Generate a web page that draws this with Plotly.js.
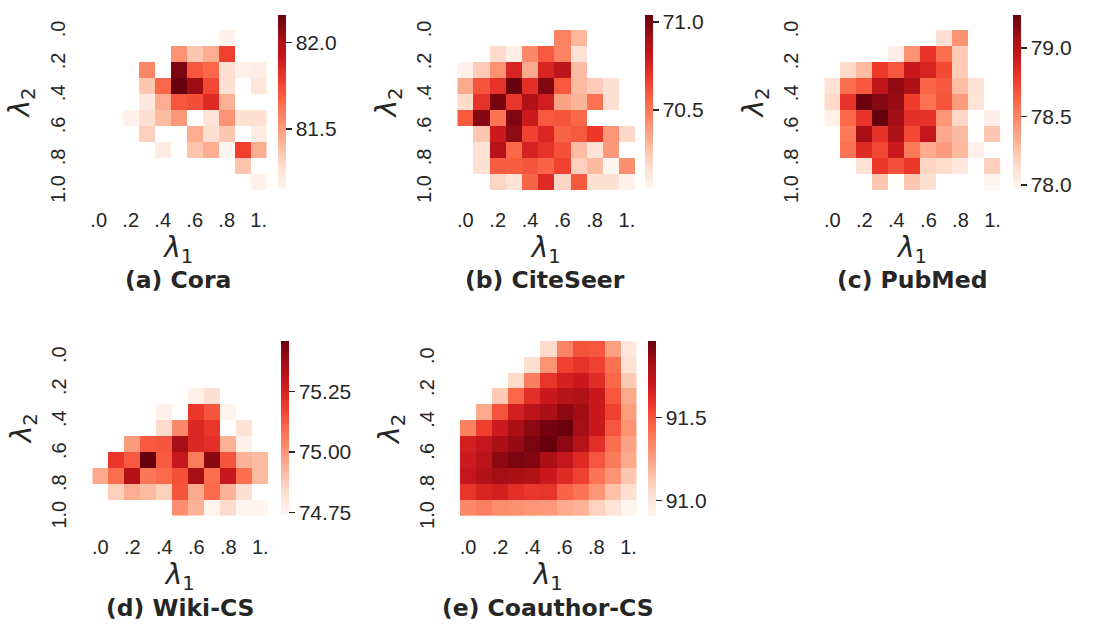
<!DOCTYPE html>
<html>
<head>
<meta charset="utf-8">
<script src="https://cdn.plot.ly/plotly-3.0.1.min.js"></script>
<style>html,body{margin:0;padding:0;background:#fff;}#chart{width:1096px;height:625px;}</style>
</head>
<body>
<div id="chart"></div>
<script>
// ---------- DATA ----------
const lambdaVals = [0.0, 0.1, 0.2, 0.3, 0.4, 0.5, 0.6, 0.7, 0.8, 0.9, 1.0];
const xTickVals = [0.0, 0.2, 0.4, 0.6, 0.8, 1.0];
const xTickText = ['.0', '.2', '.4', '.6', '.8', '1.'];
const yTickText = ['.0', '.2', '.4', '.6', '.8', '1.0'];
const n = null;

// rows: lambda2 = 0.0 .. 1.0 ; columns: lambda1 = 0.0 .. 1.0
const coraAcc = [
  [n, n, n, n, n, n, n, n, n, n, n],
  [n, n, n, n, n, n, n, n, 81.17, n, n],
  [n, n, n, n, n, 81.53, 81.36, 81.45, 81.77, n, n],
  [n, n, n, 81.57, n, 82.12, 81.71, 81.66, 81.28, 81.18, 81.19],
  [n, n, n, 81.36, 81.66, 82.16, 82.05, 81.75, 81.27, n, 81.24],
  [n, n, n, 81.23, 81.45, 81.71, 81.73, 81.84, 81.44, n, n],
  [n, n, 81.17, 81.28, 81.40, 81.51, n, 81.26, 81.53, 81.27, 81.27],
  [n, n, n, 81.33, n, n, 81.45, 81.28, 81.36, n, 81.21],
  [n, n, n, n, 81.21, n, 81.37, 81.45, 81.15, 81.77, 81.45],
  [n, n, n, n, n, n, n, n, n, 81.37, n],
  [n, n, n, n, n, n, n, n, n, n, 81.17]
];
const citeseerAcc = [
  [n, n, n, n, n, n, n, n, n, n, n],
  [n, n, n, n, n, n, 70.47, 70.31, n, n, n],
  [n, n, 70.19, 70.09, 70.45, 70.59, 70.47, 70.16, n, n, n],
  [70.08, 70.24, 70.42, 70.75, 70.35, 70.75, 70.84, 70.29, n, n, n],
  [70.35, 70.60, 70.70, 71.04, 70.71, 70.99, 70.59, 70.30, 70.24, 70.17, n],
  [70.19, 70.70, 71.01, 70.69, 70.88, 70.77, 70.37, 70.32, 70.52, 70.17, n],
  [70.59, 70.98, 70.51, 70.99, 70.79, 70.59, 70.60, 70.55, n, n, n],
  [n, 70.26, 70.79, 70.96, 70.65, 70.74, 70.56, 70.59, 70.68, 70.41, 70.20],
  [n, 70.16, 70.86, 70.55, 70.76, 70.70, 70.61, 70.29, 70.16, 70.40, n],
  [n, 70.17, 70.58, 70.58, 70.60, 70.56, 70.65, 70.23, 70.30, 70.05, 70.43],
  [n, n, 70.21, 70.16, 70.56, 70.73, 70.21, 70.59, 70.17, 70.17, 70.07]
];
const pubmedAcc = [
  [n, n, n, n, n, n, n, n, n, n, n],
  [n, n, n, n, n, n, n, 78.12, 78.44, n, n],
  [n, n, n, n, 78.02, 78.44, 78.80, 78.59, 78.22, n, n],
  [n, 78.15, 78.29, 78.77, 78.67, 78.94, 78.87, 78.71, 78.22, n, n],
  [78.11, 78.59, 78.67, 78.97, 79.13, 79.04, 78.62, 78.67, 78.27, 78.11, n],
  [78.15, 78.80, 79.23, 79.16, 79.11, 78.76, 78.57, 78.68, 78.41, 78.10, n],
  [78.01, 78.61, 78.80, 79.24, 79.09, 78.82, 78.81, 78.43, 78.16, n, 78.02],
  [n, 78.55, 79.07, 78.81, 79.05, 78.72, 78.95, 78.36, 78.29, n, 78.24],
  [n, 78.57, 78.83, 78.72, 78.92, 78.55, 78.35, 78.41, 78.29, 78.00, n],
  [n, n, 78.11, 78.78, 78.69, 78.78, 78.17, 78.14, 78.07, n, 78.20],
  [n, n, n, 78.24, n, 78.24, 78.13, n, n, n, 77.97]
];
const wikiAcc = [
  [n, n, n, n, n, n, n, n, n, n, n],
  [n, n, n, n, n, n, n, n, n, n, n],
  [n, n, n, n, n, n, n, n, n, n, n],
  [n, n, n, n, n, n, 74.76, 74.83, n, n, n],
  [n, n, n, n, 74.76, n, 75.20, 75.14, 74.75, n, n],
  [n, n, n, n, 74.84, 75.03, 75.24, 75.20, n, 74.82, n],
  [n, n, 74.99, 75.13, 75.14, 75.37, 75.24, 75.22, 74.94, 74.76, n],
  [n, 75.20, 75.13, 75.46, 75.13, 75.29, 75.06, 75.41, 75.14, 74.94, 74.92],
  [74.96, 75.09, 75.34, 75.07, 75.10, 75.15, 75.36, 75.09, 75.29, 75.09, 74.92],
  [n, 74.87, 74.95, 74.92, 74.87, 75.14, 74.96, 75.10, 74.94, 74.83, n],
  [n, n, n, n, n, 75.02, 74.94, 74.75, 74.84, 74.74, 74.74]
];
const coauthorAcc = [
  [n, n, n, n, n, 91.06, 91.35, 91.50, 91.49, 91.26, 90.99],
  [n, n, n, n, 91.04, 91.30, 91.55, 91.60, 91.55, 91.41, 91.03],
  [n, n, n, 91.06, 91.37, 91.59, 91.67, 91.70, 91.62, 91.44, 91.12],
  [n, n, 91.12, 91.44, 91.61, 91.70, 91.77, 91.79, 91.70, 91.49, 91.23],
  [n, 91.23, 91.50, 91.67, 91.75, 91.81, 91.88, 91.84, 91.70, 91.55, 91.27],
  [91.36, 91.56, 91.69, 91.81, 91.88, 91.93, 91.95, 91.83, 91.70, 91.49, 91.30],
  [91.67, 91.72, 91.81, 91.86, 91.92, 91.96, 91.88, 91.77, 91.61, 91.42, 91.25],
  [91.69, 91.76, 91.88, 91.92, 91.90, 91.81, 91.72, 91.63, 91.49, 91.38, 91.23],
  [91.72, 91.79, 91.83, 91.81, 91.79, 91.70, 91.63, 91.55, 91.40, 91.30, 91.13],
  [91.59, 91.65, 91.67, 91.61, 91.58, 91.59, 91.45, 91.40, 91.29, 91.15, 91.04],
  [91.33, 91.37, 91.32, 91.31, 91.29, 91.28, 91.23, 91.20, 91.09, 91.02, 90.91]
];
const coraTicks = [81.5, 82.0];
const citeseerTicks = [70.5, 71.0];
const pubmedTicks = [78.0, 78.5, 79.0];
const wikiTicks = [74.75, 75.00, 75.25];
const coauthorTicks = [91.0, 91.5];
const captions = ['(a) Cora', '(b) CiteSeer', '(c) PubMed', '(d) Wiki-CS', '(e) Coauthor-CS'];

// ---------- STYLE / LAYOUT ----------
const W = 1096, H = 625;
const reds = [
  [0.000, '#fff5f0'], [0.125, '#fee0d2'], [0.250, '#fcbba1'], [0.375, '#fc9272'],
  [0.500, '#fb6a4a'], [0.625, '#ef3b2c'], [0.750, '#cb181d'], [0.875, '#a50f15'], [1.000, '#67000d']
];
const TXT = '#262626';
const SANS = 'Liberation Sans, Arial, sans-serif';
const CAPF = 'DejaVu Sans, sans-serif';
const MATH = 'DejaVu Sans, sans-serif';

const panels = [
  {z: coraAcc, ticks: coraTicks, fmt: '.1f', hx: [90.7, 266.7], hy: [14, 190], cbx: 277.7, cby: [15, 189.3], cap: [177.5, 280]},
  {z: citeseerAcc, ticks: citeseerTicks, fmt: '.1f', hx: [457.3, 635], hy: [14, 190], cbx: 645, cby: [15, 189], cap: [545, 280]},
  {z: pubmedAcc, ticks: pubmedTicks, fmt: '.1f', hx: [824.3, 1000.5], hy: [14, 190], cbx: 1012.7, cby: [15, 189], cap: [912.5, 280]},
  {z: wikiAcc, ticks: wikiTicks, fmt: '.2f', hx: [92.3, 268.3], hy: [339.7, 515.7], cbx: 281, cby: [340.7, 515], cap: [180.5, 607.5]},
  {z: coauthorAcc, ticks: coauthorTicks, fmt: '.1f', hx: [460, 636.5], hy: [340.7, 516], cbx: 648.3, cby: [340.7, 515.7], cap: [547.5, 607.5]}
];

const data = [];
const layout = {
  width: W, height: H,
  margin: {l: 0, r: 0, t: 0, b: 0},
  paper_bgcolor: '#ffffff', plot_bgcolor: '#ffffff',
  font: {family: SANS, color: TXT},
  showlegend: false,
  annotations: []
};

panels.forEach((p, i) => {
  const k = i === 0 ? '' : String(i + 1);
  const cbMid = (p.cby[0] + p.cby[1]) / 2;
  data.push({
    type: 'heatmap',
    x: lambdaVals, y: lambdaVals, z: p.z,
    xaxis: 'x' + k, yaxis: 'y' + k,
    colorscale: reds,
    hoverongaps: false,
    colorbar: {
      x: p.cbx / W, xanchor: 'left', xpad: 0,
      y: 1 - cbMid / H, yanchor: 'middle', ypad: 0,
      len: p.cby[1] - p.cby[0], lenmode: 'pixels',
      thickness: 8.3, thicknessmode: 'pixels',
      outlinewidth: 0,
      tickvals: p.ticks, tickformat: p.fmt,
      ticks: 'outside', ticklen: 6, tickwidth: 1.3, tickcolor: TXT,
      tickfont: {family: SANS, size: 21, color: TXT}
    }
  });
  const bottomRow = i >= 3;
  layout['xaxis' + k] = {
    domain: [p.hx[0] / W, p.hx[1] / W],
    anchor: 'y' + k,
    range: [-0.05, 1.05],
    tickvals: xTickVals, ticktext: xTickText, tickangle: 0,
    ticks: 'outside', ticklen: bottomRow ? 13 : 12, tickcolor: 'rgba(0,0,0,0)',
    tickfont: {family: SANS, size: 20, color: TXT},
    showgrid: false, zeroline: false, showline: false,
    title: {text: '<i>λ</i><sub>1</sub>', font: {family: MATH, size: 28, color: TXT}, standoff: bottomRow ? 3 : 4}
  };
  layout['yaxis' + k] = {
    domain: [1 - p.hy[1] / H, 1 - p.hy[0] / H],
    anchor: 'x' + k,
    range: [1.05, -0.05],
    tickvals: xTickVals, ticktext: yTickText, tickangle: -90,
    ticklabelshift: -10,
    ticks: 'outside', ticklen: 17, tickcolor: 'rgba(0,0,0,0)',
    tickfont: {family: SANS, size: 20, color: TXT},
    showgrid: false, zeroline: false, showline: false,
    title: {text: '<i>λ</i><sub>2</sub>', font: {family: MATH, size: 28, color: TXT}, standoff: 8}
  };
  layout.annotations.push({
    text: '<b>' + captions[i] + '</b>',
    xref: 'paper', yref: 'paper',
    x: p.cap[0] / W, y: 1 - p.cap[1] / H,
    xanchor: 'center', yanchor: 'middle',
    showarrow: false,
    font: {family: CAPF, size: 23.5, color: TXT}
  });
});

Plotly.newPlot('chart', data, layout, {displayModeBar: false, staticPlot: true});
</script>
</body>
</html>
